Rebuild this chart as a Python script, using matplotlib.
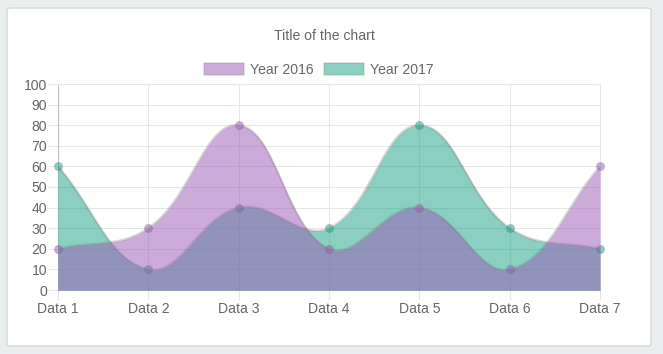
import numpy as np
import matplotlib
matplotlib.use('Agg')
import matplotlib.pyplot as plt
from matplotlib.patches import FancyBboxPatch, Patch

categories = ['Data 1', 'Data 2', 'Data 3', 'Data 4', 'Data 5', 'Data 6', 'Data 7']
year2016 = [20, 30, 80, 20, 40, 10, 60]
year2017 = [60, 10, 40, 30, 80, 30, 20]
y_ticks = list(range(0, 101, 10))
series_labels = ['Year 2016', 'Year 2017']
title = 'Title of the chart'

plt.rcParams['font.family'] = ['Liberation Sans', 'DejaVu Sans']

W, H = 663, 354
fig = plt.figure(figsize=(W / 100, H / 100), dpi=100)
fig.patch.set_facecolor('#e9edee')

card = FancyBboxPatch((7 / W, 1 - 346 / H), (651 - 7) / W, (346 - 8) / H,
                      boxstyle='round,pad=0,rounding_size=0.006',
                      transform=fig.transFigure, facecolor='white',
                      edgecolor='#d3d8d9', lw=1, zorder=-5)
fig.patches.append(card)

ax = fig.add_axes([58 / W, 1 - 290 / H, 542 / W, 206 / H])
ax.set_zorder(1)
ax.patch.set_alpha(0)
x = np.arange(len(categories))
ax.set_xlim(0, len(categories) - 1)
ax.set_ylim(0, 100)

c16 = (155 / 255, 89 / 255, 182 / 255, 0.5)
c17 = (22 / 255, 160 / 255, 133 / 255, 0.5)
line_col = (0.45, 0.45, 0.45, 0.3)


def spline_curve(xs, ys, tension=0.4, n=80):
    pts = ax.transData.transform(np.column_stack([xs, ys]).astype(float))
    N = len(pts)
    cp_prev = np.zeros_like(pts)
    cp_next = np.zeros_like(pts)
    for i in range(N):
        prev = pts[max(i - 1, 0)]
        cur = pts[i]
        nxt = pts[min(i + 1, N - 1)]
        d01 = np.hypot(*(cur - prev))
        d12 = np.hypot(*(nxt - cur))
        tot = d01 + d12
        s01 = d01 / tot if tot else 0
        s12 = d12 / tot if tot else 0
        cp_prev[i] = cur - tension * s01 * (nxt - prev)
        cp_next[i] = cur + tension * s12 * (nxt - prev)
    bb = ax.bbox
    for cp in (cp_prev, cp_next):
        cp[:, 0] = np.clip(cp[:, 0], bb.x0, bb.x1)
        cp[:, 1] = np.clip(cp[:, 1], bb.y0, bb.y1)
    t = np.linspace(0, 1, n)[:, None]
    segs = []
    for i in range(N - 1):
        P0, P1, P2, P3 = pts[i], cp_next[i], cp_prev[i + 1], pts[i + 1]
        B = (1 - t) ** 3 * P0 + 3 * (1 - t) ** 2 * t * P1 + 3 * (1 - t) * t ** 2 * P2 + t ** 3 * P3
        segs.append(B if i == 0 else B[1:])
    return ax.transData.inverted().transform(np.vstack(segs))


# Draw dataset 2017 first, then 2016 on top (as Chart.js does)
for vals, col, zb in [(year2017, c17, 1), (year2016, c16, 4)]:
    c = spline_curve(x, vals)
    ax.fill_between(c[:, 0], 0, c[:, 1], color=col, lw=0, zorder=zb)
    ax.plot(c[:, 0], c[:, 1], color=line_col, lw=1.6, zorder=zb + 0.5,
            solid_capstyle='round')
    ax.plot(x, vals, 'o', ms=5.8, mfc=col, mec=(0.4, 0.4, 0.4, 0.25), mew=0.8,
            zorder=zb + 1, clip_on=False)

ax.set_xticks(x)
ax.set_xticklabels(categories)
ax.set_yticks(y_ticks)
ax.set_yticklabels([str(v) for v in y_ticks])
ax.grid(True, color='#e6e6e6', lw=0.75)
ax.set_axisbelow(True)
ax.tick_params(axis='both', length=7.2, width=0.75, color='#e6e6e6',
               labelcolor='#666666', labelsize=10.08)
ax.tick_params(axis='y', pad=0.8)
ax.tick_params(axis='x', pad=1.5)
for side in ['top', 'right']:
    ax.spines[side].set_color('#e6e6e6')
    ax.spines[side].set_linewidth(0.75)
    ax.spines[side].set_zorder(0.6)
for side in ['left', 'bottom']:
    ax.spines[side].set_color('#bfbfbf')
    ax.spines[side].set_linewidth(0.75)
    ax.spines[side].set_zorder(0.6)
ax.xaxis.get_major_ticks()[0].tick1line.set_color('#bfbfbf')
ax.yaxis.get_major_ticks()[0].tick1line.set_color('#bfbfbf')

fig.text(324 / W, 1 - 36 / H, title, ha='center', va='center',
         fontsize=10.08, color='#666666')

handles = [Patch(facecolor=c16, edgecolor=(0.5, 0.5, 0.5, 0.25), lw=1.2),
           Patch(facecolor=c17, edgecolor=(0.5, 0.5, 0.5, 0.25), lw=1.2)]
fig.legend(handles=handles, labels=series_labels, loc='center',
           bbox_to_anchor=(318.5 / W, 1 - 70 / H), ncol=2, frameon=False,
           fontsize=10.08, handlelength=40 / 14, handleheight=13 / 14,
           handletextpad=6 / 14, columnspacing=10 / 14, borderpad=0,
           borderaxespad=0, labelcolor='#666666')

fig.savefig('out.png', dpi=100, facecolor=fig.get_facecolor())
